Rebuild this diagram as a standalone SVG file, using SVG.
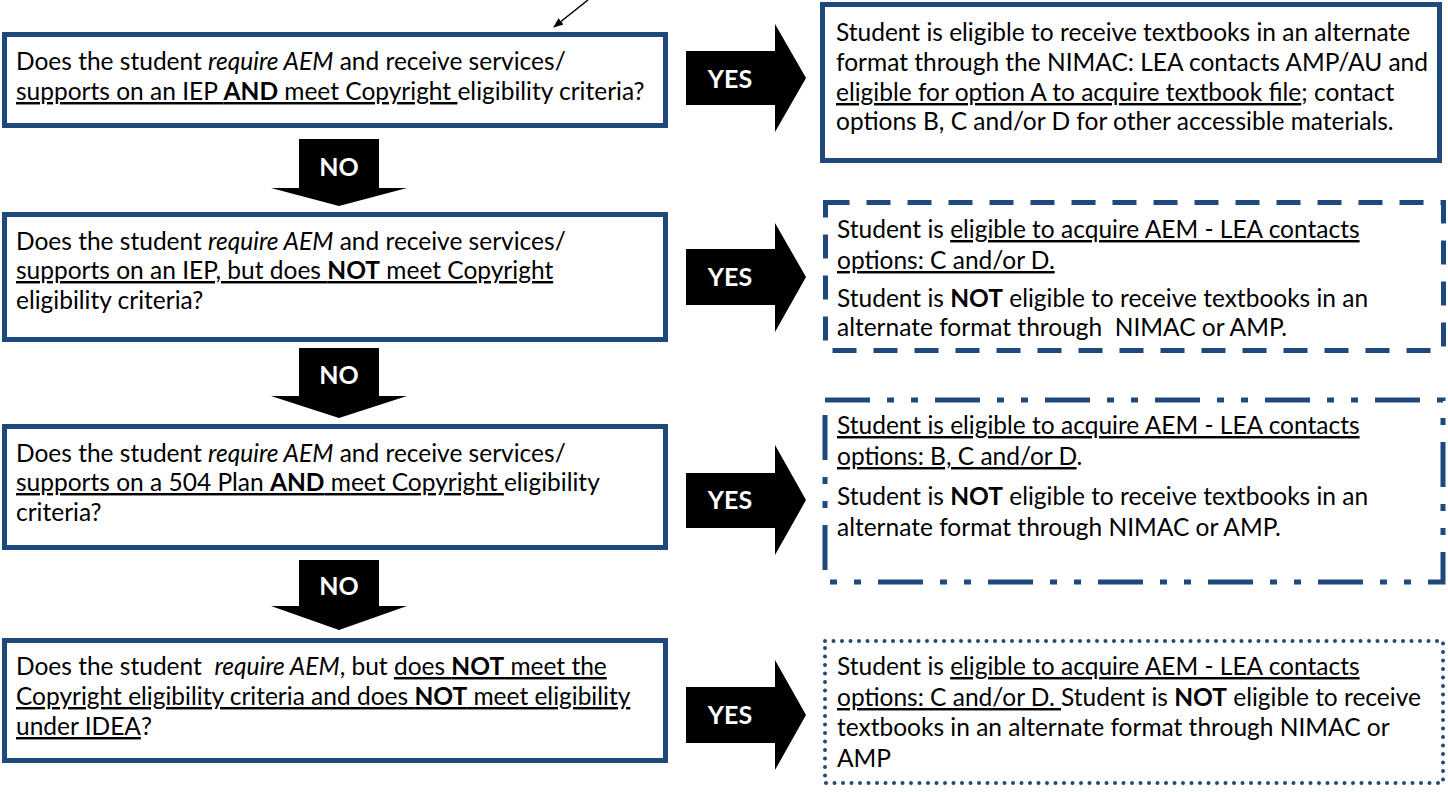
<svg xmlns="http://www.w3.org/2000/svg" width="1448" height="792" viewBox="0 0 1448 792">
<defs>
<marker id="ah" markerWidth="10" markerHeight="10" refX="9" refY="5" orient="auto" markerUnits="userSpaceOnUse">
<path d="M0,1 L10,5 L0,9 Z" fill="#000"/>
</marker>
<style>
.box{fill:#fff;stroke:#1F497D;stroke-width:5}
.dash{fill:#fff;stroke:#1F497D;stroke-width:5;stroke-dasharray:24 17}
.dashdot{fill:#fff;stroke:#1F497D;stroke-width:5;stroke-dasharray:45 17 7 17 7 17}
.dot{fill:#fff;stroke:#1F497D;stroke-width:4;stroke-linecap:round;stroke-dasharray:0 8.5}
.t{font-family:Lato,"Open Sans",sans-serif;font-size:24.5px;fill:#000}
.b{font-weight:bold}
.i{font-style:italic}
.u{text-decoration:underline}
.arr{fill:#000}
.lab{font-family:Lato,"Open Sans",sans-serif;font-weight:bold;font-size:25px;fill:#fff;text-anchor:middle}
</style>
</defs>

<g id="connectors">
<line x1="588" y1="0" x2="554" y2="27" stroke="#000" stroke-width="1.5" marker-end="url(#ah)"/>
<g id="yes1"><path class="arr" d="M686,51 H775 V24 L806,78 L775,132 V105 H686 Z"/><text class="lab" x="730" y="88">YES</text></g>
<g id="yes2"><path class="arr" d="M686,249 H775 V223 L806,277 L775,332 V305 H686 Z"/><text class="lab" x="730" y="286">YES</text></g>
<g id="yes3"><path class="arr" d="M686,473 H775 V445 L806,500 L775,555 V528 H686 Z"/><text class="lab" x="730" y="509">YES</text></g>
<g id="yes4"><path class="arr" d="M686,687 H775 V660 L806,715 L775,770 V743 H686 Z"/><text class="lab" x="730" y="724">YES</text></g>
<g id="no1"><path class="arr" d="M299,139 H379 V188 H407 L339,206 L271,188 H299 Z"/><text class="lab" x="339" y="176">NO</text></g>
<g id="no2"><path class="arr" d="M299,348 H379 V396 H407 L339,418 L271,396 H299 Z"/><text class="lab" x="339" y="384">NO</text></g>
<g id="no3"><path class="arr" d="M299,560 H379 V606 H407 L339,630 L271,606 H299 Z"/><text class="lab" x="339" y="595">NO</text></g>
</g>

<g id="q1">
<rect class="box" x="4.5" y="34.5" width="661" height="91"/>
<text class="t" x="16" y="70">Does the student <tspan class="i">require AEM</tspan> and receive services/</text>
<text class="t" x="16" y="100"><tspan class="u">supports on an IEP <tspan class="b">AND</tspan> meet Copyright </tspan>eligibility criteria?</text>
</g>

<g id="q2">
<rect class="box" x="4.5" y="214.5" width="661" height="125"/>
<text class="t" x="16" y="250">Does the student <tspan class="i">require AEM</tspan> and receive services/</text>
<text class="t" x="16" y="279"><tspan class="u">supports on an IEP, but does <tspan class="b">NOT</tspan> meet Copyright</tspan></text>
<text class="t" x="16" y="309">eligibility criteria?</text>
</g>

<g id="q3">
<rect class="box" x="4.5" y="426.5" width="661" height="121"/>
<text class="t" x="16" y="462">Does the student <tspan class="i">require AEM</tspan> and receive services/</text>
<text class="t" x="16" y="491"><tspan class="u">supports on a 504 Plan <tspan class="b">AND</tspan> meet Copyright </tspan>eligibility</text>
<text class="t" x="16" y="521">criteria?</text>
</g>

<g id="q4">
<rect class="box" x="4.5" y="640.5" width="661" height="120"/>
<text class="t" x="16" y="675" xml:space="preserve">Does the student  <tspan class="i">require AEM</tspan>, but <tspan class="u">does <tspan class="b">NOT</tspan> meet the</tspan></text>
<text class="t" x="16" y="705"><tspan class="u">Copyright eligibility criteria and does <tspan class="b">NOT</tspan> meet eligibility</tspan></text>
<text class="t" x="16" y="735"><tspan class="u">under IDEA</tspan>?</text>
</g>

<g id="r1">
<rect class="box" x="822.5" y="4.5" width="617" height="156"/>
<text class="t" x="836" y="41">Student is eligible to receive textbooks in an alternate</text>
<text class="t" x="836" y="71">format through the NIMAC: LEA contacts AMP/AU and</text>
<text class="t" x="836" y="101"><tspan class="u">eligible for option A to acquire textbook file</tspan>; contact</text>
<text class="t" x="836" y="130">options B, C and/or D for other accessible materials.</text>
</g>

<g id="r2">
<rect class="dash" x="825.5" y="202.5" width="618" height="148"/>
<text class="t" x="837" y="238">Student is <tspan class="u">eligible to acquire AEM - LEA contacts</tspan></text>
<text class="t" x="837" y="269"><tspan class="u">options: C and/or D.</tspan></text>
<text class="t" x="837" y="307">Student is <tspan class="b">NOT</tspan> eligible to receive textbooks in an</text>
<text class="t" x="837" y="336" xml:space="preserve">alternate format through  NIMAC or AMP.</text>
</g>

<g id="r3">
<rect class="dashdot" x="825" y="400" width="618" height="182"/>
<text class="t" x="837" y="434"><tspan class="u">Student is eligible to acquire AEM - LEA contacts</tspan></text>
<text class="t" x="837" y="465"><tspan class="u">options: B, C and/or D</tspan>.</text>
<text class="t" x="837" y="505">Student is <tspan class="b">NOT</tspan> eligible to receive textbooks in an</text>
<text class="t" x="837" y="536">alternate format through NIMAC or AMP.</text>
</g>

<g id="r4">
<rect class="dot" x="825" y="641" width="618" height="142"/>
<text class="t" x="837" y="675">Student is <tspan class="u">eligible to acquire AEM - LEA contacts</tspan></text>
<text class="t" x="837" y="706"><tspan class="u">options: C and/or D. </tspan>Student is <tspan class="b">NOT</tspan> eligible to receive</text>
<text class="t" x="837" y="736">textbooks in an alternate format through NIMAC or</text>
<text class="t" x="837" y="767">AMP</text>
</g>
</svg>
